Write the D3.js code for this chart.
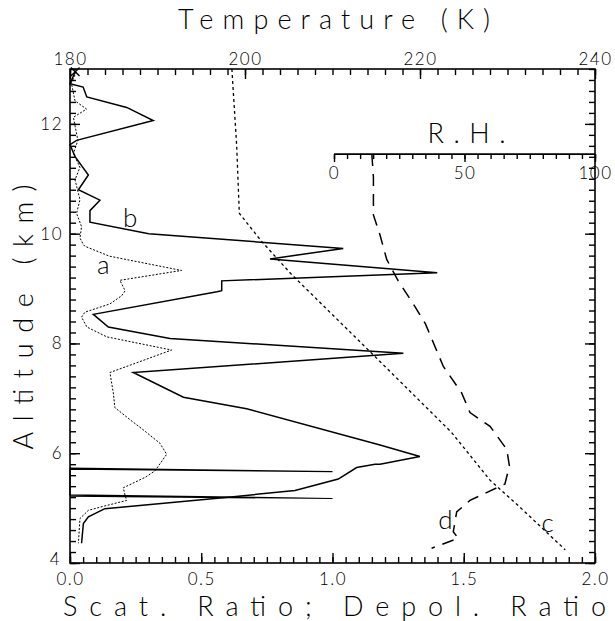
<!DOCTYPE html>
<html>
<head>
<meta charset="utf-8">
<script src="https://cdn.jsdelivr.net/npm/d3@7"></script>
<style>
  html, body { margin: 0; padding: 0; background: #fff; }
  svg { display: block; }
  text { font-family: "Lato", "DejaVu Sans", sans-serif; font-weight: 300; fill: #000; }
</style>
</head>
<body>
<svg id="chart" width="615" height="621"></svg>
<script>
// ---------------- DATA ----------------
// Curve a (dotted): scattering ratio, [value, altitude km]
const curveA = [
  [0.025,12.95],[0.005,12.75],[0.019,12.42],[0.063,12.27],[0.013,12.12],[0.03,11.70],
  [0.013,11.46],[0.038,11.21],[0.019,10.98],[0.038,10.62],[0.025,10.37],[0.044,10.13],
  [0.038,9.92],[0.051,9.80],[0.057,9.77],[0.15,9.59],[0.425,9.33],[0.19,9.15],[0.21,8.96],
  [0.197,8.87],[0.152,8.72],[0.057,8.57],[0.044,8.48],[0.064,8.30],[0.14,8.12],[0.387,7.88],
  [0.152,7.47],[0.165,7.10],[0.171,6.83],[0.229,6.61],[0.286,6.40],[0.343,6.18],[0.368,5.98],
  [0.324,5.68],[0.286,5.56],[0.203,5.37],[0.21,5.23],[0.216,5.14],[0.133,5.04],[0.07,4.96],
  [0.038,4.81],[0.032,4.36]
];
// Curve b (solid): scattering ratio, [value, altitude km]
const curveB = [
  [0.02,12.95],[0.0,12.73],[0.05,12.67],[0.064,12.49],[0.216,12.30],[0.317,12.06],
  [0.025,11.70],[0.0,11.62],[0.02,11.40],[0.07,11.07],[0.032,10.80],[0.114,10.61],
  [0.076,10.42],[0.076,10.21],[0.30,10.0],[1.041,9.73],[0.762,9.54],[1.399,9.29],
  [0.578,9.14],[0.578,8.96],[0.56,8.94],[0.089,8.53],[0.146,8.30],[0.381,8.09],
  [1.27,7.82],[0.241,7.47],[0.432,7.02],[0.673,6.81],[1.181,6.15],[1.333,5.94],
  [1.181,5.80],[1.162,5.80],[1.092,5.74],[1.022,5.53],[0.857,5.32],[0.603,5.20],
  [0.133,4.99],[0.07,4.84],[0.051,4.72],[0.044,4.36]
];
// Depolarization ratio spikes (solid): [value, altitude km]
const depol = [
  [0.0,5.73],[1.0,5.665],[0.0,5.71],[0.0,5.24],[1.0,5.175],[0.0,5.22]
];
// Curve c (dotted): temperature K, [T, altitude km]
const curveC = [
  [198.5,13.0],[199.05,11.6],[199.35,10.37],[201.9,9.86],[205.3,9.26],[212.76,8.09],
  [215.43,7.67],[223.6,6.38],[228.0,5.51],[231.4,5.02],[236.6,4.24]
];
// Curve d (dashed): relative humidity %, [RH, altitude km]
const curveD = [
  [14.5,11.45],[15.1,11.03],[15.1,10.34],[17.6,9.98],[20.2,9.53],[24.6,9.14],[30.4,8.72],
  [35.0,8.36],[41.9,7.58],[48.9,7.10],[52.1,6.74],[59.8,6.49],[66.2,6.07],[67.2,5.77],
  [65.5,5.44],[52.1,5.14],[47.0,4.93],[45.7,4.57],[47.6,4.45],[37.4,4.27]
];
// Axis ticks / labels
const ratioTicks = [0, 0.5, 1.0, 1.5, 2.0];
const tempTicks = [180, 200, 220, 240];
const altTicks = [4, 6, 8, 10, 12];
const rhTicks = [0, 50, 100];
const curveLabels = [
  {t:"a", x:0.127, alt:9.43},
  {t:"b", x:0.229, alt:10.29},
  {t:"c", x:1.82, alt:4.73},
  {t:"d", x:1.43, alt:4.78}
];

// ---------------- LAYOUT ----------------
const L = 70, R = 595, T = 69, B = 563;
const rhAxisAlt = 11.45, rhLeft = 334;

const svg = d3.select("#chart");
const x = d3.scaleLinear().domain([0, 2]).range([L, R]);
const y = d3.scaleLinear().domain([4, 13]).range([B, T]);
const tx = d3.scaleLinear().domain([180, 240]).range([L, R]);
const rx = d3.scaleLinear().domain([0, 100]).range([rhLeft, R]);

function styleAxis(g, fs) {
  g.select(".domain").remove();
  g.selectAll(".tick line").attr("stroke", "#000").attr("stroke-width", 1.4);
  g.selectAll(".tick text").style("font-size", fs + "px")
    .style("font-family", '"Lato", "DejaVu Sans", sans-serif')
    .style("font-weight", 300).style("letter-spacing", "1.5px").attr("fill", "#000");
  g.attr("font-family", null).attr("font-size", null);
}

const fs = 17;
// Bottom axis
svg.append("g").attr("transform", `translate(0,${B})`)
  .call(d3.axisBottom(x).tickValues(d3.range(0, 2.0001, 0.05)).tickSize(-6).tickFormat(""))
  .call(g => styleAxis(g, fs));
svg.append("g").attr("transform", `translate(0,${B})`)
  .call(d3.axisBottom(x).tickValues(ratioTicks).tickSize(-10).tickPadding(8).tickFormat(d3.format(".1f")))
  .call(g => styleAxis(g, fs))
  .call(g => g.selectAll(".tick text").attr("y", 10));
// Top axis
svg.append("g").attr("transform", `translate(0,${T})`)
  .call(d3.axisTop(tx).tickValues(d3.range(180, 240.001, 2)).tickSize(-6).tickFormat(""))
  .call(g => styleAxis(g, fs));
svg.append("g").attr("transform", `translate(0,${T})`)
  .call(d3.axisTop(tx).tickValues(tempTicks).tickSize(-10).tickPadding(4).tickFormat(d3.format("d")))
  .call(g => styleAxis(g, fs))
  .call(g => g.selectAll(".tick text").attr("y", -4));
// Left axis
svg.append("g").attr("transform", `translate(${L},0)`)
  .call(d3.axisLeft(y).tickValues(d3.range(4, 13.001, 0.2)).tickSize(-6).tickFormat(""))
  .call(g => styleAxis(g, fs));
svg.append("g").attr("transform", `translate(${L},0)`)
  .call(d3.axisLeft(y).tickValues(altTicks).tickSize(-10).tickPadding(8).tickFormat(d3.format("d")))
  .call(g => styleAxis(g, fs))
  .call(g => g.selectAll(".tick text").attr("x", -7))
  .call(g => g.selectAll(".tick text").filter(d => d === 4).attr("dy", "0.1em").attr("x", -9));
// Right axis
svg.append("g").attr("transform", `translate(${R},0)`)
  .call(d3.axisRight(y).tickValues(d3.range(4, 13.001, 0.2)).tickSize(-6).tickFormat(""))
  .call(g => styleAxis(g, fs));
svg.append("g").attr("transform", `translate(${R},0)`)
  .call(d3.axisRight(y).tickValues(altTicks).tickSize(-10).tickFormat(""))
  .call(g => styleAxis(g, fs));

// Frame
svg.append("rect").attr("x", L).attr("y", T).attr("width", R - L).attr("height", B - T)
  .attr("fill", "none").attr("stroke", "#000").attr("stroke-width", 1.6);

// RH axis
const rhY = y(rhAxisAlt);
svg.append("g").attr("transform", `translate(0,${rhY})`)
  .call(d3.axisBottom(rx).tickValues(d3.range(0, 100.001, 5)).tickSize(5).tickFormat(""))
  .call(g => styleAxis(g, fs));
svg.append("g").attr("transform", `translate(0,${rhY})`)
  .call(d3.axisBottom(rx).tickValues(rhTicks).tickSize(8).tickPadding(5).tickFormat(d3.format("d")))
  .call(g => styleAxis(g, fs));
svg.append("line").attr("x1", rx(0)).attr("x2", rx(100)).attr("y1", rhY).attr("y2", rhY)
  .attr("stroke", "#000").attr("stroke-width", 1.6);

// Lines
const lineRatio = d3.line().x(d => x(d[0])).y(d => y(d[1]));
const lineTemp = d3.line().x(d => tx(d[0])).y(d => y(d[1]));
const lineRH = d3.line().x(d => rx(d[0])).y(d => y(d[1]));

svg.append("path").attr("d", lineRatio(curveA)).attr("fill", "none")
  .attr("stroke", "#000").attr("stroke-width", 1).attr("stroke-dasharray", "2,1.6");
svg.append("path").attr("d", lineRatio(curveB)).attr("fill", "none")
  .attr("stroke", "#000").attr("stroke-width", 1.5).attr("stroke-linejoin", "miter");
svg.append("path").attr("d", lineRatio(depol)).attr("fill", "none")
  .attr("stroke", "#000").attr("stroke-width", 1.2);
svg.append("path").attr("d", lineTemp(curveC)).attr("fill", "none")
  .attr("stroke", "#000").attr("stroke-width", 1.3).attr("stroke-dasharray", "3,3");
svg.append("path").attr("d", lineRH(curveD)).attr("fill", "none")
  .attr("stroke", "#000").attr("stroke-width", 1.5).attr("stroke-dasharray", "12,8");

// X marker at top of profiles
svg.append("path").attr("d", d3.symbol().type(d3.symbolTimes).size(50)())
  .attr("transform", `translate(${x(curveB[0][0])},${y(curveB[0][1])})`)
  .attr("fill", "none").attr("stroke", "#000").attr("stroke-width", 1.4);

// Curve labels
svg.selectAll("text.curve").data(curveLabels).join("text").attr("class", "curve")
  .attr("x", d => x(d.x)).attr("y", d => y(d.alt)).attr("dy", "0.35em")
  .attr("text-anchor", "middle").style("font-size", "26px").text(d => d.t);

// Titles
svg.append("text").attr("x", 334).attr("y", 29).attr("text-anchor", "middle")
  .attr("textLength", 312).attr("lengthAdjust", "spacing")
  .style("font-size", "27px").text("Temperature (K)");
svg.append("text").attr("x", 334.5).attr("y", 616).attr("text-anchor", "middle")
  .attr("textLength", 543).attr("lengthAdjust", "spacing")
  .style("font-size", "27px").text("Scat. Ratio; Depol. Ratio");
svg.append("text").attr("transform", "translate(33,317) rotate(-90)").attr("text-anchor", "middle")
  .attr("textLength", 265).attr("lengthAdjust", "spacing")
  .style("font-size", "27px").text("Altitude (km)");
svg.append("text").attr("x", rx(50) + 2).attr("y", rhY - 11).attr("text-anchor", "middle")
  .attr("textLength", 78).attr("lengthAdjust", "spacing")
  .style("font-size", "27px").text("R.H.");
</script>
</body>
</html>
